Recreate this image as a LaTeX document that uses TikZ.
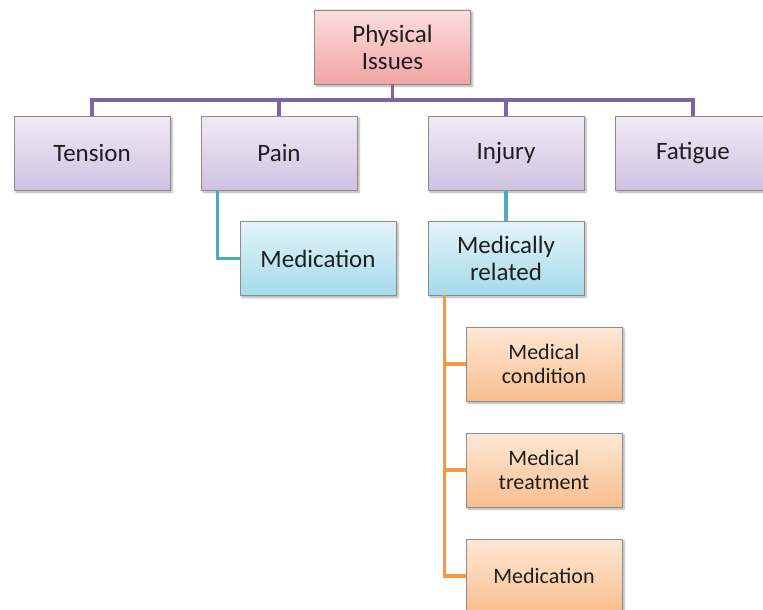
\documentclass[tikz,border=0pt]{standalone}
\usepackage{fontspec}
\setmainfont{Carlito}
\usetikzlibrary{shadows.blur}
\definecolor{linkpurple}{HTML}{8064A2}
\definecolor{linkteal}{HTML}{4BACC6}
\definecolor{linkorange}{HTML}{F79646}
\definecolor{boxedge}{HTML}{8C8C8C}
\definecolor{txt}{HTML}{1E1E1E}
\tikzset{
  box/.style={draw=boxedge, line width=0.8pt, minimum width=156pt, minimum height=74pt,
    inner sep=2pt, align=center, text=txt, font=\fontsize{25}{27}\selectfont,
    blur shadow={shadow xshift=2pt, shadow yshift=-2pt, shadow blur steps=4, shadow opacity=35}},
  rootbox/.style={box, top color={rgb,255:red,251;green,222;blue,222}, bottom color={rgb,255:red,242;green,164;blue,164}},
  topicbox/.style={box, top color={rgb,255:red,240;green,235;blue,246}, bottom color={rgb,255:red,207;green,193;blue,224}},
  subbox/.style={box, top color={rgb,255:red,228;green,244;blue,249}, bottom color={rgb,255:red,165;green,218;blue,235}},
  leafbox/.style={box, font=\fontsize{22}{24}\selectfont, top color={rgb,255:red,253;green,232;blue,214}, bottom color={rgb,255:red,249;green,190;blue,142}},
  purplelink/.style={draw=linkpurple, line width=3.2pt},
  teallink/.style={draw=linkteal, line width=3.2pt},
  orangelink/.style={draw=linkorange, line width=3.2pt}
}
\begin{document}
\begin{tikzpicture}[x=1pt, y=-1pt]
\useasboundingbox (0,0) rectangle (763,610);
\clip (0,0) rectangle (763,610);

% level of the horizontal purple bus
\coordinate (bar) at (0,100);

\node[rootbox] (root) at (392.5,47) {Physical\\Issues};
\node[topicbox] (tension) at (92,153) {Tension};
\node[topicbox] (pain) at (279,153) {Pain};
\node[topicbox] (injury) at (506,153) {Injury};
\node[topicbox] (fatigue) at (693,153) {Fatigue};
\node[subbox] (med) at (318,258.5) {Medication};
\node[subbox] (medrel) at (506,258) {Medically\\related};
\node[leafbox] (cond) at (544,364) {Medical\\condition};
\node[leafbox] (treat) at (544,470) {Medical\\treatment};
\node[leafbox] (medic) at (544,576) {Medication};

% top level: root to the four topics
\path[purplelink] (root.south) -- (root.south |- bar);
\path[purplelink] (tension.north) -- (tension.north |- bar) -| (fatigue.north);
\path[purplelink] (pain.north) -- (pain.north |- bar);
\path[purplelink] (injury.north) -- (injury.north |- bar);

% second level
\path[teallink] ([xshift=17pt]pain.south west) |- (med.west);
\path[teallink] (injury.south) -- (medrel.north);

% third level
\path[orangelink] ([xshift=17pt]medrel.south west) |- (cond.west);
\path[orangelink] ([xshift=17pt]medrel.south west) |- (treat.west);
\path[orangelink] ([xshift=17pt]medrel.south west) |- (medic.west);
\end{tikzpicture}
\end{document}
